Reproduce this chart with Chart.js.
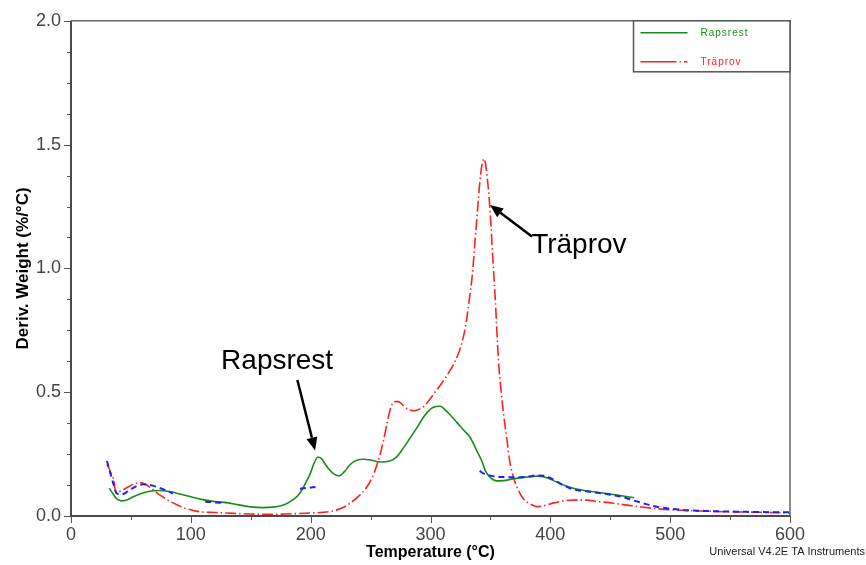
<!DOCTYPE html>
<html>
<head>
<meta charset="utf-8">
<script src="https://cdn.jsdelivr.net/npm/chart.js@4"></script>
<style>
  body { margin: 0; background: #fff; }
  canvas { display: block; }
</style>
</head>
<body>
<canvas id="dtgChart" width="866" height="565"></canvas>
<script>
// DTG curves: temperature (°C) against derivative weight (%/°C)
const rapsTemp = [32, 35, 38, 42, 47, 53, 60, 67, 74, 82, 90, 100, 110, 120, 130, 140, 150, 160, 170, 178,
    185, 191, 196, 200, 203, 206, 209, 212, 216, 220, 224, 228, 233, 238, 244, 250, 258, 266, 272, 277,
    283, 289, 295, 302, 308, 314, 322, 328, 333, 338, 343, 346, 350, 355, 361, 369, 380, 389, 397, 405,
    412, 419, 430, 442, 452, 462, 470];
const rapsDeriv = [0.112, 0.09, 0.07, 0.061, 0.066, 0.08, 0.093, 0.101, 0.103, 0.099, 0.09, 0.078, 0.066, 0.058, 0.054, 0.045, 0.037, 0.034, 0.037, 0.045,
    0.065, 0.092, 0.135, 0.175, 0.215, 0.237, 0.232, 0.21, 0.185, 0.168, 0.162, 0.178, 0.208, 0.224, 0.229, 0.226, 0.218, 0.222, 0.24, 0.272,
    0.315, 0.359, 0.405, 0.438, 0.443, 0.42, 0.378, 0.345, 0.318, 0.27, 0.22, 0.18, 0.155, 0.142, 0.143, 0.15, 0.157, 0.161, 0.155, 0.138,
    0.123, 0.112, 0.102, 0.094, 0.087, 0.08, 0.074];

const traTemp = [30, 32, 34, 36, 37, 39, 43, 48, 53, 58, 62, 66, 70, 74, 79, 83, 90, 96, 102, 108,
    120, 130, 150, 170, 183, 200, 216, 225, 233, 240, 247, 253, 258, 261, 264, 267, 270, 273, 277, 281,
    286, 290, 295, 300, 305, 310, 316, 320, 325, 329, 332, 335, 337, 339, 341, 343, 344.7, 346, 347.5, 349,
    350.5, 352, 354, 356.7, 359, 361, 364, 366, 369, 372, 376, 380, 385, 389, 395, 402, 410, 419, 430, 440,
    447, 456, 464, 475, 490, 510, 525, 550, 575, 600];
const traDeriv = [0.208, 0.19, 0.165, 0.14, 0.1, 0.097, 0.105, 0.118, 0.13, 0.135, 0.128, 0.116, 0.1, 0.085, 0.07, 0.058, 0.042, 0.03, 0.022, 0.017,
    0.014, 0.012, 0.008, 0.007, 0.009, 0.012, 0.018, 0.03, 0.052, 0.08, 0.118, 0.175, 0.25, 0.31, 0.38, 0.44, 0.462, 0.462, 0.448, 0.432,
    0.425, 0.43, 0.445, 0.475, 0.508, 0.54, 0.585, 0.62, 0.68, 0.76, 0.86, 0.98, 1.1, 1.22, 1.34, 1.42, 1.443, 1.42, 1.36, 1.28,
    1.17, 1.04, 0.88, 0.63, 0.5, 0.41, 0.3, 0.225, 0.16, 0.118, 0.08, 0.058, 0.044, 0.038, 0.042, 0.052, 0.06, 0.064, 0.064, 0.058,
    0.055, 0.049, 0.044, 0.037, 0.029, 0.023, 0.02, 0.017, 0.015, 0.013];

// overlay run, only partly recorded (nulls break the line)
const overlayTemp = [30, 33, 36, 38, 42, 47, 52, 60, 66, 72, 79, 85, 100, 112, 120, 129, 160, 191, 204, 270,
    341, 345, 350, 356, 364, 372, 380, 389, 397, 405, 412, 419, 430, 439, 450, 460, 470, 480, 490, 500,
    510, 525, 550, 575, 600];
const overlayDeriv = [0.222, 0.17, 0.12, 0.092, 0.087, 0.098, 0.114, 0.128, 0.125, 0.117, 0.104, 0.091, null, 0.058, 0.055, 0.052, null, 0.11, 0.117, null,
    0.182, 0.17, 0.163, 0.158, 0.157, 0.156, 0.158, 0.164, 0.16, 0.14, 0.122, 0.108, 0.1, 0.094, 0.086, 0.077, 0.062, 0.048, 0.036, 0.03,
    0.025, 0.021, 0.018, 0.016, 0.015];

const xTicks = [0, 100, 200, 300, 400, 500, 600];
const yTicks = [0, 0.5, 1.0, 1.5, 2.0];

const FONT = "'Liberation Sans', Arial, sans-serif";

function toPoints(t, v) {
    return t.map((x, i) => ({ x: x, y: v[i] }));
}

// axis frame, minor ticks, legend box and footer
const framePlugin = {
    id: 'framePlugin',
    afterDraw(chart) {
        const { ctx, chartArea: a, scales: { x, y } } = chart;
        ctx.save();

        ctx.strokeStyle = '#555';
        ctx.lineWidth = 1;
        ctx.beginPath();
        for (let t = 0; t <= 600; t += 50) {
            const px = Math.round(x.getPixelForValue(t)) + 0.5;
            ctx.moveTo(px, a.bottom);
            ctx.lineTo(px, a.bottom + (t % 100 === 0 ? 7 : 4));
        }
        for (let i = 0; i <= 16; i++) {
            const py = Math.round(y.getPixelForValue(i * 0.125)) + 0.5;
            ctx.moveTo(a.left, py);
            ctx.lineTo(a.left - (i % 4 === 0 ? 7 : 4), py);
        }
        ctx.stroke();

        // top + right
        ctx.strokeStyle = '#666';
        ctx.lineWidth = 1.5;
        ctx.beginPath();
        ctx.moveTo(a.left, a.top);
        ctx.lineTo(a.right, a.top);
        ctx.lineTo(a.right, a.bottom);
        ctx.stroke();

        // left + bottom axes
        ctx.strokeStyle = '#4a4a4a';
        ctx.lineWidth = 2;
        ctx.beginPath();
        ctx.moveTo(a.left, a.top);
        ctx.lineTo(a.left, a.bottom);
        ctx.lineTo(a.right, a.bottom);
        ctx.stroke();

        // legend
        const lx = 633.5, ly = a.top, lw = a.right - lx, lh = 51;
        ctx.fillStyle = '#fff';
        ctx.fillRect(lx, ly, lw, lh);
        ctx.strokeStyle = '#555';
        ctx.lineWidth = 1.5;
        ctx.strokeRect(lx, ly, lw, lh);

        const entries = chart.data.datasets.filter(d => d.inLegend);
        entries.forEach((d, i) => {
            const ey = ly + 12 + i * 29;
            ctx.strokeStyle = d.borderColor;
            ctx.lineWidth = 1.5;
            ctx.setLineDash(d.legendDash);
            ctx.beginPath();
            ctx.moveTo(lx + 7, ey);
            ctx.lineTo(lx + 54, ey);
            ctx.stroke();
            ctx.setLineDash([]);
            ctx.fillStyle = d.borderColor;
            ctx.font = '10px ' + FONT;
            ctx.letterSpacing = '1px';
            ctx.textAlign = 'left';
            ctx.textBaseline = 'middle';
            ctx.fillText(d.label, lx + 67, ey);
        });
        ctx.letterSpacing = '0px';

        ctx.fillStyle = '#222';
        ctx.font = '11px ' + FONT;
        ctx.textAlign = 'right';
        ctx.textBaseline = 'middle';
        ctx.fillText('Universal V4.2E TA Instruments', 865, 552);

        ctx.restore();
    }
};

// text labels with arrows pointing at the curves
const notes = [
    { text: 'Rapsrest', tx: 172, ty: 0.594, fromT: 188.9, fromV: 0.549, toT: 203.7, toV: 0.265, align: 'center' },
    { text: 'Träprov', tx: 384, ty: 1.064, fromT: 384.6, fromV: 1.129, toT: 349.7, toV: 1.256, align: 'left' }
];

const notePlugin = {
    id: 'notePlugin',
    afterDatasetsDraw(chart) {
        const { ctx, scales: { x, y } } = chart;
        ctx.save();
        notes.forEach(n => {
            ctx.fillStyle = '#000';
            ctx.font = '28px ' + FONT;
            ctx.textAlign = n.align;
            ctx.textBaseline = 'alphabetic';
            ctx.fillText(n.text, x.getPixelForValue(n.tx), y.getPixelForValue(n.ty));

            const x0 = x.getPixelForValue(n.fromT), y0 = y.getPixelForValue(n.fromV);
            const x1 = x.getPixelForValue(n.toT), y1 = y.getPixelForValue(n.toV);
            const ang = Math.atan2(y1 - y0, x1 - x0);
            const head = 13, half = 5.5;
            const bx = x1 - head * Math.cos(ang), by = y1 - head * Math.sin(ang);
            ctx.strokeStyle = '#000';
            ctx.lineWidth = 2.5;
            ctx.beginPath();
            ctx.moveTo(x0, y0);
            ctx.lineTo(bx, by);
            ctx.stroke();
            ctx.beginPath();
            ctx.moveTo(x1, y1);
            ctx.lineTo(bx + half * Math.sin(ang), by - half * Math.cos(ang));
            ctx.lineTo(bx - half * Math.sin(ang), by + half * Math.cos(ang));
            ctx.closePath();
            ctx.fill();
        });
        ctx.restore();
    }
};

const ctx = document.getElementById('dtgChart').getContext('2d');

new Chart(ctx, {
    type: 'line',
    data: {
        datasets: [
            {
                label: 'overlay',
                data: toPoints(overlayTemp, overlayDeriv),
                borderColor: '#1f1fff',
                borderWidth: 2,
                borderDash: [6, 4],
                order: 0
            },
            {
                label: 'Rapsrest',
                data: toPoints(rapsTemp, rapsDeriv),
                borderColor: '#1a8c1a',
                borderWidth: 1.6,
                inLegend: true,
                legendDash: [],
                order: 1
            },
            {
                label: 'Träprov',
                data: toPoints(traTemp, traDeriv),
                borderColor: '#ff2020',
                borderWidth: 1.6,
                borderDash: [11, 3, 1.5, 3],
                inLegend: true,
                legendDash: [36, 3, 1.5, 3],
                order: 2
            }
        ]
    },
    options: {
        responsive: false,
        animation: false,
        spanGaps: false,
        layout: { padding: { top: 18, right: 76, left: 0, bottom: 0 } },
        elements: {
            point: { radius: 0 },
            line: { cubicInterpolationMode: 'monotone', fill: false }
        },
        plugins: {
            legend: { display: false },
            tooltip: { enabled: false }
        },
        scales: {
            x: {
                type: 'linear',
                min: 0,
                max: 600,
                afterFit: s => { s.height = 49; },
                afterBuildTicks: s => { s.ticks = xTicks.map(v => ({ value: v })); },
                grid: { display: false, drawTicks: false },
                border: { display: false },
                ticks: {
                    color: '#444',
                    font: { family: FONT, size: 18 },
                    padding: 8,
                    maxRotation: 0,
                    callback: v => String(v)
                },
                title: {
                    display: true,
                    text: 'Temperature (°C)',
                    color: '#000',
                    font: { family: FONT, size: 16, weight: 'bold' },
                    padding: { top: 0, bottom: 3 }
                }
            },
            y: {
                min: 0,
                max: 2,
                afterFit: s => { s.width = 71; },
                afterBuildTicks: s => { s.ticks = yTicks.map(v => ({ value: v })); },
                grid: { display: false, drawTicks: false },
                border: { display: false },
                ticks: {
                    color: '#444',
                    font: { family: FONT, size: 18 },
                    padding: 10,
                    callback: v => v.toFixed(1)
                },
                title: {
                    display: true,
                    text: 'Deriv. Weight (%/°C)',
                    color: '#000',
                    font: { family: FONT, size: 17, weight: 'bold' },
                    padding: { top: 13, bottom: 0 }
                }
            }
        }
    },
    plugins: [notePlugin, framePlugin]
});
</script>
</body>
</html>
